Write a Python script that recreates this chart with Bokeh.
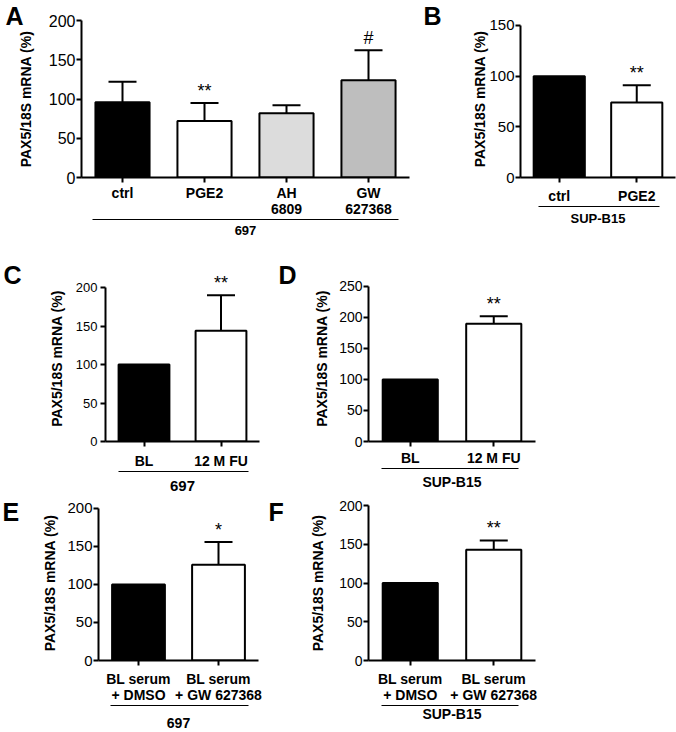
import math
from bokeh.plotting import figure
from bokeh.models import (ColumnDataSource, FactorRange, Range1d, LinearAxis,
                          FixedTicker, Whisker, TeeHead)
from bokeh.layouts import row, column
from bokeh.embed import file_html
from bokeh.resources import INLINE
from bokeh.core.properties import value

FONT = "Liberation Sans"
NaN = float("nan")

# ---------------- data ----------------
a_cats = ["ctrl", "PGE2", "AH\n6809", "GW\n627368"]
a_vals = [96, 72, 82, 124]
a_err = [122, 95, 92, 162]
a_sig = ["", "**", "", "#"]
a_colors = ["black", "white", "#dcdcdc", "#bebebe"]
a_group = "697"
a_yticks = [0, 50, 100, 150, 200]

b_cats = ["ctrl", "PGE2"]
b_vals = [100, 74]
b_err = [NaN, 91]
b_sig = ["", "**"]
b_group = "SUP-B15"
b_yticks = [0, 50, 100, 150]

c_cats = ["BL", "12 M FU"]
c_vals = [100, 144]
c_err = [NaN, 190]
c_sig = ["", "**"]
c_group = "697"
c_yticks = [0, 50, 100, 150, 200]

d_cats = ["BL", "12 M FU"]
d_vals = [100, 190]
d_err = [NaN, 202]
d_sig = ["", "**"]
d_group = "SUP-B15"
d_yticks = [0, 50, 100, 150, 200, 250]

e_cats = ["BL serum\n+ DMSO", "BL serum\n+ GW 627368"]
e_vals = [100, 126]
e_err = [NaN, 156]
e_sig = ["", "*"]
e_group = "697"
e_yticks = [0, 50, 100, 150, 200]

f_cats = ["BL serum\n+ DMSO", "BL serum\n+ GW 627368"]
f_vals = [100, 143]
f_err = [NaN, 155]
f_sig = ["", "**"]
f_group = "SUP-B15"
f_yticks = [0, 50, 100, 150, 200]

two_colors = ["black", "white"]
YLABEL = "PAX5/18S mRNA (%)"


def panel(letter, cats, vals, err, sig, colors, group, yticks, ymax,
          width, height, border, title_spec, tick_fs, grp_fs, grp_bounds,
          cat_standoff, grp_standoff, ylab_standoff, ytick_standoff):
    l, r, t, b = border
    p = figure(x_range=FactorRange(*cats, range_padding=0),
               y_range=Range1d(0, ymax), width=width, height=height,
               output_backend="svg", toolbar_location=None,
               min_border_left=l, min_border_right=r,
               min_border_top=t, min_border_bottom=b)
    p.outline_line_color = None
    p.grid.visible = False
    p.background_fill_color = "white"
    p.border_fill_color = "white"

    # panel letter as the plot title, pulled to the left of the frame
    t_off, t_standoff = title_spec
    p.title.text = letter
    p.title.align = "left"
    p.title.vertical_align = "bottom"
    p.title.offset = t_off
    p.title.standoff = t_standoff
    p.title.text_font = FONT
    p.title.text_font_style = "bold"
    p.title.text_font_size = "25px"
    p.title.text_color = "black"

    p.vbar(x=cats, top=vals, width=0.66, fill_color=colors,
           line_color="black", line_width=2)

    xs = [c for c, e in zip(cats, err) if not math.isnan(e)]
    tops = [v for v, e in zip(vals, err) if not math.isnan(e)]
    ups = [e for e in err if not math.isnan(e)]
    src = ColumnDataSource(dict(x=xs, lower=tops, upper=ups))
    w = Whisker(base="x", lower="lower", upper="upper", source=src,
                dimension="height", line_width=2, line_color="black",
                lower_head=None,
                upper_head=TeeHead(size=28, line_width=2, line_color="black"))
    p.add_layout(w)

    sx = [c for c, s in zip(cats, sig) if s]
    sy = [e for e, s in zip(err, sig) if s]
    st = [s for s in sig if s]
    p.text(x=sx, y=sy, text=st, text_align="center", text_baseline="bottom",
           y_offset=-2, text_font_size="18px", text_font=value(FONT),
           text_color="black")

    # y axis
    ya = p.yaxis[0]
    ya.ticker = FixedTicker(ticks=yticks)
    ya.bounds = (yticks[0], yticks[-1])
    ya.axis_line_width = 2
    ya.major_tick_line_width = 2
    ya.major_tick_out = 5
    ya.major_tick_in = 0
    ya.minor_tick_line_color = None
    ya.major_label_text_font = FONT
    ya.major_label_text_font_size = tick_fs
    ya.major_label_text_color = "black"
    ya.major_label_standoff = ytick_standoff
    ya.axis_label = YLABEL
    ya.axis_label_text_font = FONT
    ya.axis_label_text_font_style = "bold"
    ya.axis_label_text_font_size = "14px"
    ya.axis_label_text_color = "black"
    ya.axis_label_standoff = ylab_standoff

    # x axis (categories)
    xa = p.xaxis[0]
    xa.axis_line_width = 2
    xa.major_tick_line_width = 2
    xa.major_tick_out = 5
    xa.major_tick_in = 0
    xa.minor_tick_line_color = None
    xa.major_label_text_font = FONT
    xa.major_label_text_font_style = "bold"
    xa.major_label_text_font_size = "14px"
    xa.major_label_text_color = "black"
    xa.major_label_text_line_height = 1.0
    xa.major_label_standoff = cat_standoff

    # group line + label (bounds in category units of the same x range)
    n = len(cats)
    ga = LinearAxis(ticker=FixedTicker(ticks=[]),
                    bounds=(grp_bounds[0] * n, grp_bounds[1] * n),
                    axis_line_width=1, axis_line_color="black",
                    major_tick_out=0, major_tick_in=0,
                    major_tick_line_color=None, minor_tick_line_color=None,
                    major_label_text_font_size="0px", major_label_standoff=0,
                    axis_label=group, axis_label_text_font=FONT,
                    axis_label_text_font_style="bold",
                    axis_label_text_font_size=grp_fs,
                    axis_label_text_color="black",
                    axis_label_standoff=grp_standoff)
    p.add_layout(ga, "below")
    return p


pA = panel("A", a_cats, a_vals, a_err, a_sig, a_colors, a_group, a_yticks, 200,
           415, 245, (81, 6, 20, 68), (-76, -19),
           "16px", "13px", (0.035, 0.965), 2, 6, 12, 1)
pB = panel("B", b_cats, b_vals, b_err, b_sig, two_colors, b_group, b_yticks, 154.9,
           261, 245, (105, 1, 20, 68), (-97, -19),
           "15px", "13px", (0.116, 0.897), 5, 4, -2, 1)
pC = panel("C", c_cats, c_vals, c_err, c_sig, two_colors, c_group, c_yticks, 215.6,
           272, 252, (105, 13, 30, 56), (-102, -26),
           "13px", "15px", (0.084, 0.93), 6, 9, 8, 3)
pD = panel("D", d_cats, d_vals, d_err, d_sig, two_colors, d_group, d_yticks, 267.7,
           273, 252, (96, 10, 30, 56), (-90, -26),
           "14px", "14px", (0.078, 0.90), 3, 5, 6, 1)
pE = panel("E", e_cats, e_vals, e_err, e_sig, two_colors, e_group, e_yticks, 203.9,
           265, 233, (98, 7, 8, 68), (-96, -40),
           "15px", "14px", (0.075, 0.94), 5, 12, 6, 1)
pF = panel("F", f_cats, f_vals, f_err, f_sig, two_colors, f_group, f_yticks, 200,
           280, 233, (103, 10, 8, 68), (-100, -40),
           "14px", "14px", (0.078, 0.90), 5, 0, 10, 1)

layout = column(row(pA, pB), row(pC, pD), row(pE, pF))
open("out.html", "w").write(file_html(layout, INLINE))
